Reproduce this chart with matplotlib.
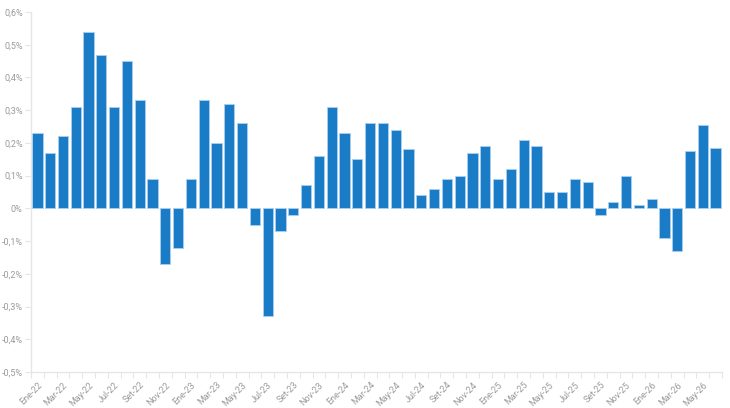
import matplotlib
matplotlib.use("Agg")
import matplotlib.pyplot as plt
import numpy as np

months = ["Ene", "Feb", "Mar", "Abr", "May", "Jun", "Jul", "Ago", "Set", "Oct", "Nov", "Dic"]
categories = [f"{m}-{y}" for y in ["22", "23", "24", "25", "26"] for m in months][:54]

values = [0.23, 0.17, 0.22, 0.31, 0.54, 0.47, 0.31, 0.45, 0.33, 0.09, -0.17, -0.12,
          0.09, 0.33, 0.20, 0.32, 0.26, -0.05, -0.33, -0.07, -0.02, 0.07, 0.16, 0.31,
          0.23, 0.15, 0.26, 0.26, 0.24, 0.18, 0.04, 0.06, 0.09, 0.10, 0.17, 0.19,
          0.09, 0.12, 0.21, 0.19, 0.05, 0.05, 0.09, 0.08, -0.02, 0.02, 0.10, 0.01,
          0.03, -0.09, -0.13, 0.175, 0.255, 0.185]

y_ticks = [-0.5, -0.4, -0.3, -0.2, -0.1, 0.0, 0.1, 0.2, 0.3, 0.4, 0.5, 0.6]
y_labels = ["-0,5%", "-0,4%", "-0,3%", "-0,2%", "-0,1%", "0%", "0,1%", "0,2%", "0,3%", "0,4%", "0,5%", "0,6%"]

plt.rcParams['font.family'] = ['Roboto', 'DejaVu Sans']

fig = plt.figure(figsize=(7.30, 4.08), dpi=100)
ax = fig.add_axes([31/730, 36/408, 691/730, 360/408])

x = np.arange(len(values))
ax.bar(x, values, width=0.8, color="#1a7bc6", edgecolor="#a9d0ee", linewidth=0.6)

ax.set_xlim(-0.5, len(values) - 0.5)
ax.set_ylim(-0.5, 0.6)

ax.set_yticks(y_ticks)
ax.set_yticklabels(y_labels, fontsize=6.5, color="#9a9a9a")
ax.tick_params(axis="y", length=4, width=0.8, color="#e6e6e6", pad=2)

ax.set_xticks(x[::2])
ax.set_xticklabels(categories[::2], rotation=45, ha="right", rotation_mode="anchor",
                   fontsize=6.5, color="#9a9a9a")
ax.set_xticks(np.arange(len(values) + 1) - 0.5, minor=True)
ax.tick_params(axis="x", which="major", length=0, pad=6)
ax.tick_params(axis="x", which="minor", length=4, width=0.8, color="#e6e6e6")

for s in ["top", "right"]:
    ax.spines[s].set_visible(False)
for s in ["left", "bottom"]:
    ax.spines[s].set_color("#e6e6e6")
    ax.spines[s].set_linewidth(1.0)

fig.savefig("out.png", dpi=100)
